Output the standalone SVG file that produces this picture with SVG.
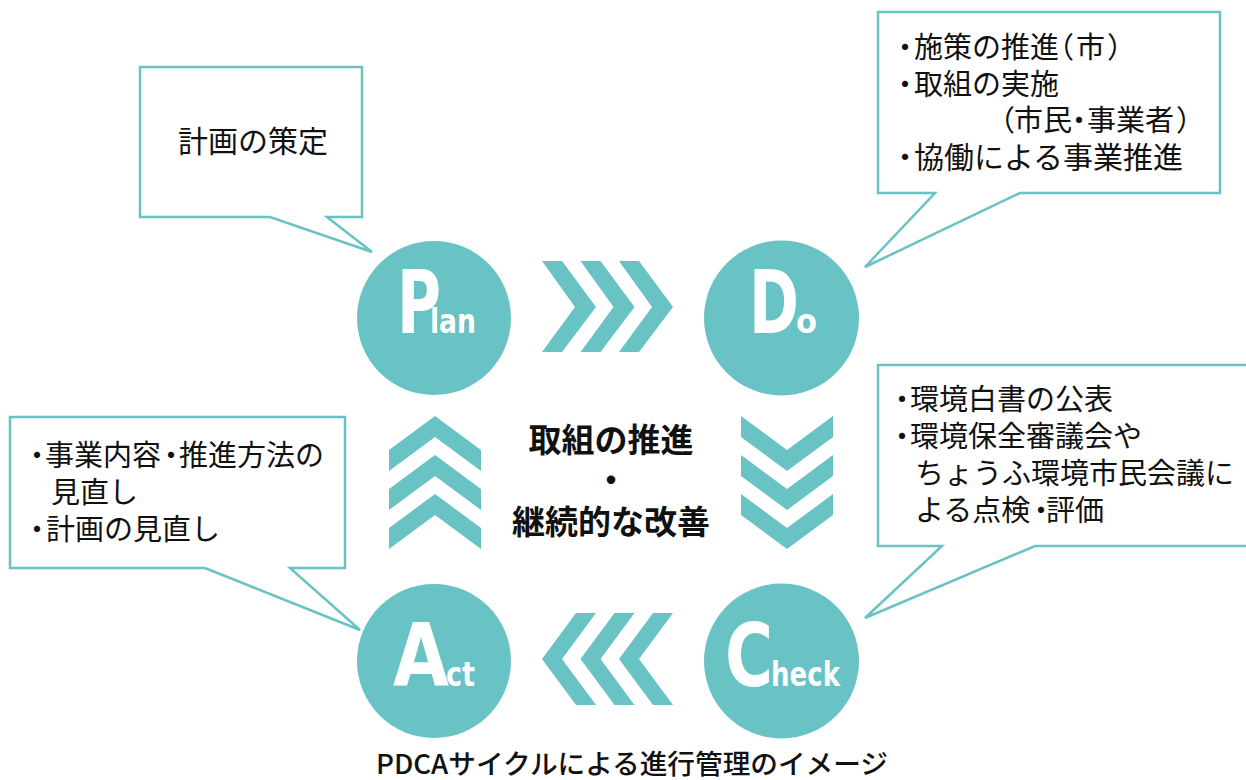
<svg xmlns="http://www.w3.org/2000/svg" width="1246" height="780" viewBox="0 0 1246 780">
<style>
.bub{fill:#fff;stroke:#69C3C4;stroke-width:2.5;stroke-linejoin:miter}
.circ{fill:#69C3C4}
.chev{fill:#69C3C4}
.t{font-family:"Noto Sans CJK JP","Noto Sans CJK SC",sans-serif;font-size:29px;fill:#111}
.c{font-family:"Noto Sans CJK JP","Noto Sans CJK SC",sans-serif;font-size:33px;font-weight:bold;fill:#111;text-anchor:middle}
.cap{font-family:"Noto Sans CJK JP","Noto Sans CJK SC",sans-serif;font-size:27px;font-weight:500;fill:#111}
.big{font-family:"DejaVu Sans Condensed","Liberation Sans",sans-serif;font-weight:bold;font-size:88px;fill:#fff}
.sm{font-family:"DejaVu Sans Condensed","Liberation Sans",sans-serif;font-weight:bold;font-size:34px;fill:#fff}
</style>
<rect width="1246" height="780" fill="#fff"/>

<g id="callout-plan">
<path class="bub" d="M140,67 H362 V217 H327 L372,252 L270,217 H140 Z"/>
<text class="t" x="178" y="152" style="font-size:30px">計画の策定</text>
</g>

<g id="callout-do">
<path class="bub" d="M878,12 H1220 V193 H1020 L865,267 L935,193 H878 Z"/>
<text class="t" y="58"><tspan x="890.5">・</tspan><tspan x="914">施策の推進</tspan><tspan x="1045">（</tspan><tspan x="1076">市</tspan><tspan x="1107">）</tspan></text>
<text class="t" y="95"><tspan x="890.5">・</tspan><tspan x="914">取組の実施</tspan></text>
<text class="t" y="131"><tspan x="986">（</tspan><tspan x="1014">市民</tspan><tspan x="1064.5">・</tspan><tspan x="1087">事業者</tspan><tspan x="1176">）</tspan></text>
<text class="t" y="168" style="font-size:30px"><tspan x="890">・</tspan><tspan x="914">協働による事業推進</tspan></text>
</g>

<g id="callout-check">
<path class="bub" d="M878,365 H1260 V546 H1035 L865,618 L942,546 H878 Z"/>
<text class="t" y="410"><tspan x="887.5">・</tspan><tspan x="910">環境白書の公表</tspan></text>
<text class="t" y="447"><tspan x="887.5">・</tspan><tspan x="910">環境保全審議会や</tspan></text>
<text class="t" y="484"><tspan x="915">ちょうふ環境市民会議に</tspan></text>
<text class="t" y="521"><tspan x="915">よる点検</tspan><tspan x="1026.5">・</tspan><tspan x="1046">評価</tspan></text>
</g>

<g id="callout-act">
<path class="bub" d="M10,417 H345 V568 H290 L360,630 L205,568 H10 Z"/>
<text class="t" y="466"><tspan x="22.5">・</tspan><tspan x="45">事業内容</tspan><tspan x="156.5">・</tspan><tspan x="179">推進方法の</tspan></text>
<text class="t" y="503"><tspan x="51">見直し</tspan></text>
<text class="t" y="540"><tspan x="22.5">・</tspan><tspan x="46">計画の見直し</tspan></text>
</g>

<g id="node-plan">
<circle class="circ" cx="434" cy="318" r="77"/>
<text class="big" x="397" y="333" textLength="44" lengthAdjust="spacingAndGlyphs">P</text>
<text class="sm" x="430" y="333" textLength="46" lengthAdjust="spacingAndGlyphs">lan</text>
</g>

<g id="node-do">
<circle class="circ" cx="781.5" cy="318" r="77.5"/>
<text class="big" x="749" y="333" textLength="50" lengthAdjust="spacingAndGlyphs">D</text>
<text class="sm" x="796" y="333" textLength="21" lengthAdjust="spacingAndGlyphs">o</text>
</g>

<g id="node-check">
<circle class="circ" cx="781.5" cy="661" r="77.5"/>
<text class="big" x="725" y="686" textLength="48" lengthAdjust="spacingAndGlyphs">C</text>
<text class="sm" x="771" y="686" textLength="69" lengthAdjust="spacingAndGlyphs">heck</text>
</g>

<g id="node-act">
<circle class="circ" cx="434" cy="661" r="77"/>
<text class="big" x="393" y="686" textLength="56" lengthAdjust="spacingAndGlyphs">A</text>
<text class="sm" x="446" y="686" textLength="29" lengthAdjust="spacingAndGlyphs">ct</text>
</g>

<g id="connectors">
<defs>
<polygon id="chR" class="chev" points="0,0 20,0 54,46 20,91 0,91 33,46"/>
<polygon id="chL" class="chev" points="34,0 54,0 20,46 54,92 34,92 0,46"/>
<polygon id="chU" class="chev" points="46,0 92,34 92,55 46,21 0,55 0,34"/>
<polygon id="chD" class="chev" points="0,0 46,34 92,0 92,21 46,55 0,21"/>
</defs>
<g id="plan-to-do">
<use href="#chR" x="542" y="261"/>
<use href="#chR" x="580.5" y="261"/>
<use href="#chR" x="619" y="261"/>
</g>
<g id="do-to-check">
<use href="#chD" x="741" y="416"/>
<use href="#chD" x="741" y="455"/>
<use href="#chD" x="741" y="494"/>
</g>
<g id="check-to-act">
<use href="#chL" x="542" y="613"/>
<use href="#chL" x="580.5" y="613"/>
<use href="#chL" x="619" y="613"/>
</g>
<g id="act-to-plan">
<use href="#chU" x="389" y="416"/>
<use href="#chU" x="389" y="455"/>
<use href="#chU" x="389" y="494"/>
</g>
</g>

<g id="center-label">
<text class="c" x="611" y="452">取組の推進</text>
<text class="c" x="611" y="492">・</text>
<text class="c" x="611" y="534">継続的な改善</text>
</g>

<g id="caption">
<text class="cap" x="376" y="774" textLength="512" lengthAdjust="spacingAndGlyphs">PDCAサイクルによる進行管理のイメージ</text>
</g>
</svg>
